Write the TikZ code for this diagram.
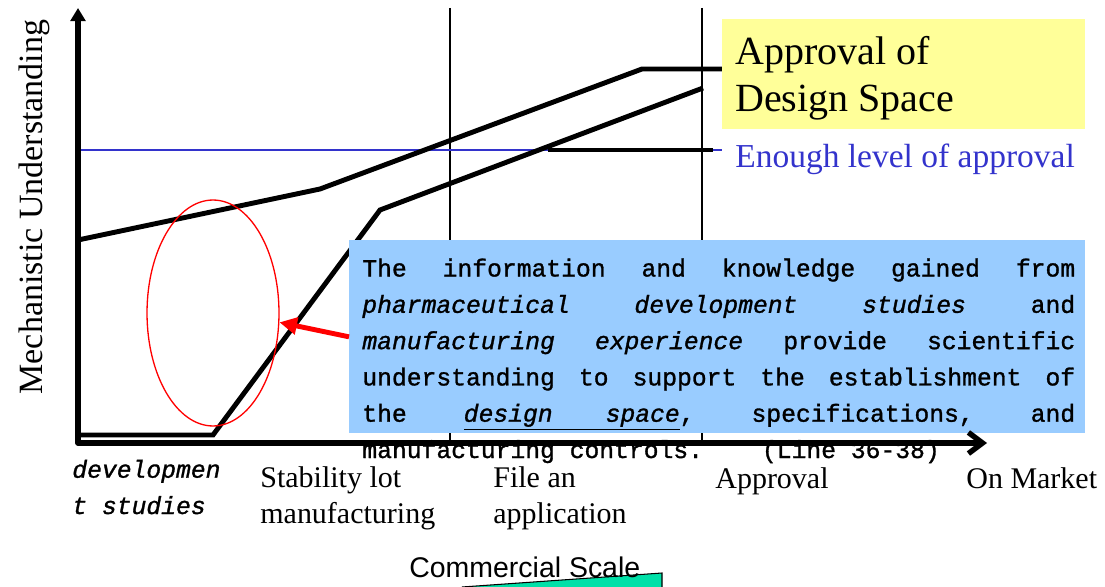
\documentclass[tikz,border=0pt]{standalone}
\usepackage{fontspec}
\setmainfont{Liberation Serif}
\newfontfamily\monofnt[FakeBold=1.2]{Liberation Mono}
\newfontfamily\sansfnt{Liberation Sans}
\usepackage{tikz}
\usetikzlibrary{shapes.geometric}
\usetikzlibrary{arrows.meta}
\definecolor{dsyellow}{RGB}{255,255,153}
\definecolor{infoblue}{RGB}{153,204,255}
\definecolor{lvlblue}{RGB}{51,51,204}
\definecolor{csgreen}{RGB}{0,224,168}
\newcommand{\axlw}{3.1pt}
\newcommand{\crvlw}{2.8pt}
\newcommand{\grdlw}{0.75pt}
\newcommand{\infow}{14.26cm}
\newcommand{\jline}[1]{\makebox[\infow][s]{#1}}
\newcommand{\lblfs}{\fontsize{17.07}{20.2}\selectfont}
\newcommand{\monofs}{\fontsize{14.05}{20.66}\selectfont}

\begin{document}
\begin{tikzpicture}[x=0.02cm,y=-0.02cm,anchor=base west,
    crv/.style={line width=\crvlw},
    grd/.style={line width=\grdlw},
    lvl/.style={lvlblue,line width=\grdlw},
    lbl/.style={align=left,inner sep=0pt,font=\lblfs},
    panel/.style={anchor=north west,inner sep=0pt},
    axis/.style={line width=\axlw,line join=round},
    redarr/.style={red,line width=2.8pt,-{Triangle[length=10pt,width=9.5pt]}}]
    \useasboundingbox (0,0) rectangle (1105,587);

    \draw[grd] (450,8) -- (450,443);
    \draw[grd] (702,8) -- (702,443);
    \draw[lvl] (78,150) -- (722,150);

    \draw[crv] (78,240) -- (320,189) -- (642,69) -- (722,69);
    \draw[crv] (78,435) -- (213,435) -- (380,210) -- (703,88);
    \draw[crv] (548,150) -- (713,150);

    \node (dsbox) [panel,fill=dsyellow,minimum width=7.26cm,
      minimum height=2.2cm] at (722,19) {};
    \node (infobox) [panel,fill=infoblue,minimum width=14.72cm,
      minimum height=3.86cm] at (349,240) {};
    \node (ell) [ellipse,draw=red,line width=\grdlw,inner sep=0pt,
      minimum width=2.64cm,minimum height=4.52cm,anchor=center] at (213,313) {};

    % multi-line nodes sit on the baseline of their last line
    \node (dstxt) [lbl,font=\fontsize{22.76}{26.75}\selectfont]
      at (735,112) {Approval of\\Design Space};
    \node (lvltxt) [lbl,text=lvlblue,font=\fontsize{19.06}{22}\selectfont]
      at (735,168) {Enough level of approval};

    \node (infotxt) [lbl,font=\monofnt\monofs] at (362,458) {%
      \jline{The\hfill information\hfill and\hfill knowledge\hfill gained\hfill from}\\
      \jline{\textit{pharmaceutical}\hfill\textit{development}\hfill\textit{studies}\hfill and}\\
      \jline{\textit{manufacturing}\hfill\textit{experience}\hfill provide\hfill scientific}\\
      \jline{understanding\hfill to\hfill support\hfill the\hfill establishment\hfill of}\\
      \jline{the\hfill\underline{\makebox[4.32cm][s]{\textit{design}\hfill\textit{space}}},\hfill
        specifications,\hfill and}\\
      manufacturing controls.\hspace{1.18cm}(Line 36-38)};

    \node (ylbl) [anchor=base,rotate=90,font=\fontsize{19.35}{22}\selectfont]
      at (42,207) {Mechanistic Understanding};

    \node (devlbl) [lbl,font=\monofnt\monofs\itshape] at (72,514) {developmen\\t studies};
    \node (stablbl) [lbl] at (260,523) {Stability lot\\manufacturing};
    \node (filelbl) [lbl] at (493,523) {File an\\application};
    \node (apprlbl) [lbl] at (715,488) {Approval};
    \node (mktlbl) [lbl] at (966,488) {On Market};

    \filldraw[fill=csgreen,draw=black,line width=0.6pt]
      (462,587) -- (662,573) -- (662,587);
    \node (cslbl) [inner sep=0pt,font=\sansfnt\fontsize{16.2}{19}\selectfont]
      at (409,577) {Commercial Scale};

    \draw[axis,{Triangle[length=7.5pt,width=8.5pt]}-{Straight Barb[length=8pt,width=12pt]}]
      (78,8) -- (78,443) -- (987,443);
    \draw[redarr] (infobox.west) -- (ell.-8);
  \end{tikzpicture}
\end{document}
